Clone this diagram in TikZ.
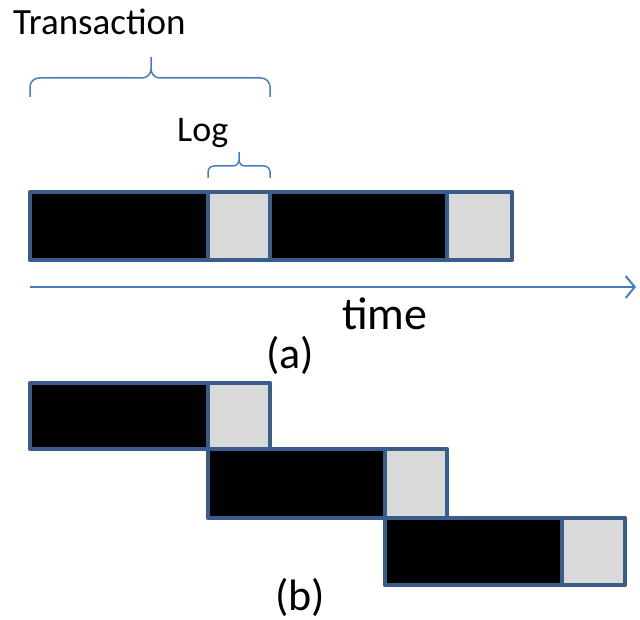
\documentclass[tikz,border=0pt]{standalone}
\usepackage{fontspec}
\setmainfont{Carlito}
\usetikzlibrary{arrows.meta}
\definecolor{boxline}{RGB}{56,93,138}
\definecolor{axisblue}{RGB}{74,126,187}
\definecolor{loggray}{RGB}{217,217,217}
\begin{document}
\begin{tikzpicture}[x=1pt, y=-1pt,
	txn/.style = {draw=boxline, fill=black, line width=4.5pt, line join=round},
	logbox/.style = {draw=boxline, fill=loggray, line width=4.5pt, line join=round},
	brc/.style = {draw=axisblue, line width=1.5pt, rounded corners=9pt},
	lbl/.style = {inner sep=0pt, anchor=base},
	>={Straight Barb[length=9pt, width=22pt]}]
				\useasboundingbox (0,0) rectangle (640,620);
				% labels
				\node[lbl, anchor=base west] (trans) at (13,35) {\fontsize{37}{40}\selectfont Transaction};
				\node[lbl, anchor=base west] (log) at (177,142) {\fontsize{36}{40}\selectfont Log};
				\node[lbl] (time) at (385,330) {\fontsize{46}{50}\selectfont time};
				\node[lbl] (parta) at (290,369) {\fontsize{44}{48}\selectfont (a)};
				\node[lbl] (partb) at (300,610) {\fontsize{44}{48}\selectfont (b)};
				% braces
				\draw[brc] (30,97) |- (151,78) -- (151,57) (270,97) |- (151,78) -- (151,57);
				\draw[brc, rounded corners=6pt] (208,178) |- (239,166) -- (239,152) (270,178) |- (239,166) -- (239,152);
				% (a) one after another
				\draw[txn] (30,192) rectangle (208,260);
				\draw[logbox] (208,192) rectangle (270,260);
				\draw[txn] (270,192) rectangle (447,260);
				\draw[logbox] (447,192) rectangle (512,260);
				\coordinate (t0) at (30,287);
				\coordinate (t1) at (636,287);
				\draw[->, axisblue, line width=2pt] (t0) -- (t1);
				% (b) overlapped
				\draw[txn] (30,383) rectangle (208,449);
				\draw[logbox] (208,383) rectangle (270,449);
				\draw[txn] (208,449) rectangle (385,518);
				\draw[logbox] (385,449) rectangle (447,518);
				\draw[txn] (385,518) rectangle (562,585);
				\draw[logbox] (562,518) rectangle (625,585);
			\end{tikzpicture}
\end{document}
